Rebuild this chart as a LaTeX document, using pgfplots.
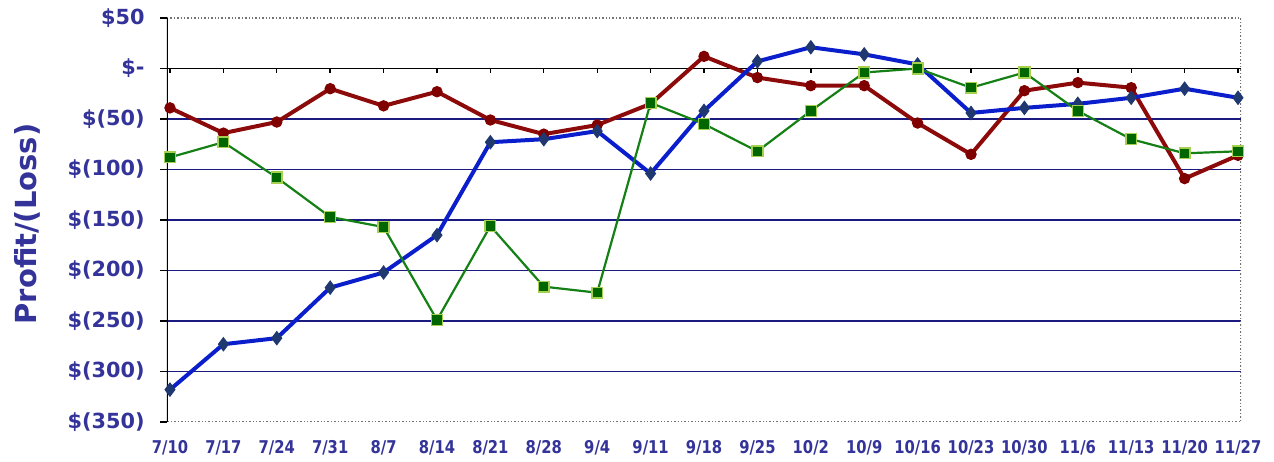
\documentclass[border=0pt]{standalone}
\usepackage{pgfplots}
\pgfplotsset{compat=1.18}
\usepackage{fontspec}
\setmainfont{DejaVu Sans}
\newfontfamily\xfont[FakeStretch=0.84]{DejaVu Sans}
\definecolor{txt}{HTML}{333399}
\definecolor{gridc}{HTML}{1A1A80}
\definecolor{blueline}{HTML}{0A1ECC}
\definecolor{bluemark}{HTML}{1F3870}
\definecolor{redline}{HTML}{8C0A0A}
\definecolor{redmark}{HTML}{800000}
\definecolor{greenline}{HTML}{158015}
\definecolor{greenmark}{HTML}{006600}
\definecolor{greenedge}{HTML}{A8D050}
\begin{document}
\begin{tikzpicture}
\begin{axis}[
  name=ax,
  scale only axis, width=537pt, height=202pt,
  xmin=-0.056, xmax=20.056, ymin=-350, ymax=50,
  axis line style={draw=none},
  tick pos=left,
  xtick={0,...,20},
  xticklabels={7/10,7/17,7/24,7/31,8/7,8/14,8/21,8/28,9/4,9/11,9/18,9/25,10/2,10/9,10/16,10/23,10/30,11/6,11/13,11/20,11/27},
  ytick={-300,-250,-200,-150,-100,-50},
  yticklabels={\$(300),\$(250),\$(200),\$(150),\$(100),\$(50)},
  extra y ticks={-350,0,50},
  extra y tick labels={\$(350),\$-,\$50},
  extra y tick style={ymajorgrids=false},
  ymajorgrids, grid style={gridc, line width=0.75pt},
  tick align=outside, major tick length=3.5pt,
  y tick style={black, line width=0.7pt},
  x tick style={draw=none},
  yticklabel style={font=\bfseries\fontsize{10.4}{12}\selectfont, text=txt, anchor=east, inner sep=0pt, xshift=-7.5pt},
  xticklabel style={font=\xfont\bfseries\fontsize{8.8}{10}\selectfont, text=txt, anchor=north, inner sep=0pt, yshift=-5.5pt},
  ylabel={Profit/(Loss)},
  ylabel style={at={(rel axis cs:-0.1304,0.49)}, anchor=center, font=\bfseries\fontsize{14.5}{16}\selectfont, text=txt},
]
\draw[black, line width=0.8pt] (axis cs:-0.056,0) -- (axis cs:20.056,0);
\pgfplotsinvokeforeach{0,...,20}{\draw[black, line width=0.7pt] (axis cs:#1,0) -- ([yshift=-2.5pt]axis cs:#1,0);}
\draw[black!55, densely dotted, line width=0.7pt] (rel axis cs:0,1) -- (rel axis cs:1,1) -- (rel axis cs:1,0) -- (rel axis cs:0,0);
\draw[black, line width=0.8pt] (rel axis cs:0,0) -- (rel axis cs:0,1);

\addplot[color=redline, line width=2pt, mark=*, mark size=2.6pt, mark options={solid, fill=redmark, draw=redmark, line width=0.5pt}] coordinates {
(0,-39) (1,-64) (2,-53) (3,-20) (4,-37) (5,-23) (6,-51) (7,-65) (8,-56) (9,-35) (10,12) (11,-9) (12,-17) (13,-17) (14,-54) (15,-85) (16,-22) (17,-14) (18,-19) (19,-109) (20,-86)};

\addplot[color=blueline, line width=2pt, mark=diamond*, mark size=3.3pt, mark options={solid, fill=bluemark, draw=bluemark, line width=0.5pt}] coordinates {
(0,-318) (1,-273) (2,-267) (3,-217) (4,-202) (5,-165) (6,-73) (7,-70) (8,-62) (9,-104) (10,-42) (11,7) (12,21) (13,14) (14,4) (15,-44) (16,-39) (17,-35) (18,-29) (19,-20) (20,-29)};

\addplot[color=greenline, line width=1.1pt, mark=square*, mark size=2.7pt, mark options={solid, fill=greenmark, draw=greenedge, line width=0.7pt}] coordinates {
(0,-88) (1,-73) (2,-108) (3,-147) (4,-157) (5,-249) (6,-156) (7,-216) (8,-222) (9,-34) (10,-55) (11,-82) (12,-42) (13,-4) (14,0) (15,-19) (16,-4) (17,-42) (18,-70) (19,-84) (20,-82)};
\end{axis}
\pgfresetboundingbox
\path[use as bounding box] ([xshift=-83.5pt,yshift=9pt]ax.north west) rectangle ([xshift=16.5pt,yshift=-20pt]ax.south east);
\end{tikzpicture}
\end{document}
